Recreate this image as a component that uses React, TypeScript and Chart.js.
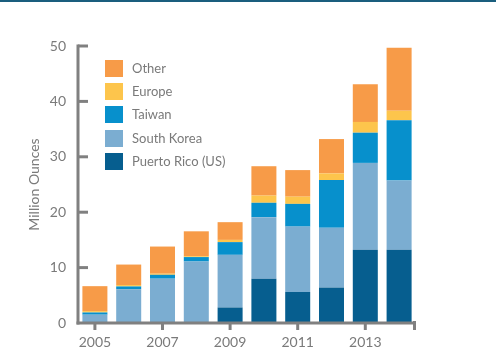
import React, { useEffect, useRef } from "react";
import { Chart, registerables } from "chart.js";

Chart.register(...registerables);

const years = ["2005", "2006", "2007", "2008", "2009", "2010", "2011", "2012", "2013", "2014"];
const puertoRico = [0, 0, 0, 0, 2.8, 8.0, 5.6, 6.4, 13.2, 13.2];
const southKorea = [1.5, 6.1, 8.0, 11.1, 9.5, 11.1, 11.8, 10.8, 15.7, 12.5];
const taiwan = [0.4, 0.5, 0.7, 0.8, 2.3, 2.6, 4.1, 8.6, 5.45, 10.9];
const europe = [0.25, 0.25, 0.2, 0.15, 0.4, 1.3, 1.3, 1.2, 1.95, 1.7];
const other = [4.5, 3.7, 4.9, 4.5, 3.2, 5.3, 4.8, 6.2, 6.8, 11.4];
const yTicks = [0, 10, 20, 30, 40, 50];

const COLORS = {
  pr: "#065e8f",
  sk: "#7badd1",
  tw: "#0790cc",
  eu: "#fdc54c",
  ot: "#f79b48",
};

const legendItems = [
  { label: "Other", color: COLORS.ot },
  { label: "Europe", color: COLORS.eu },
  { label: "Taiwan", color: COLORS.tw },
  { label: "South Korea", color: COLORS.sk },
  { label: "Puerto Rico (US)", color: COLORS.pr },
];

const AXIS = "#808080";
const TEXT = "#7a7a7a";
const FONT = "Lato, 'Open Sans', sans-serif";

const axisPlugin = {
  id: "customAxes",
  afterDraw(chart: any) {
    const { ctx } = chart;
    const x = chart.scales.x;
    const y = chart.scales.y;
    const left = chart.chartArea.left;
    const right = chart.chartArea.right;
    const bottom = y.getPixelForValue(0);
    const top = y.getPixelForValue(50);
    ctx.save();
    ctx.strokeStyle = AXIS;
    ctx.lineWidth = 3;
    ctx.lineCap = "butt";
    ctx.beginPath();
    ctx.moveTo(left, top - 1.5);
    ctx.lineTo(left, bottom + 1.5);
    ctx.stroke();
    ctx.beginPath();
    ctx.moveTo(left - 1.5, bottom);
    ctx.lineTo(right, bottom);
    ctx.stroke();
    yTicks.forEach((v) => {
      if (v === 0) return;
      const py = y.getPixelForValue(v);
      ctx.beginPath();
      ctx.moveTo(left, py);
      ctx.lineTo(left + 10, py);
      ctx.stroke();
    });
    years.forEach((_yr, i) => {
      if (i % 2 !== 0) return;
      const px = x.getPixelForValue(i);
      ctx.beginPath();
      ctx.moveTo(px, bottom);
      ctx.lineTo(px, bottom + 7);
      ctx.stroke();
    });
    ctx.beginPath();
    ctx.moveTo(right - 1.5, bottom - 2);
    ctx.lineTo(right - 1.5, bottom + 7);
    ctx.stroke();
    ctx.restore();
  },
};

export default function App() {
  const ref = useRef<HTMLCanvasElement>(null);
  useEffect(() => {
    if (!ref.current) return;
    const mk = (label: string, data: number[], color: string) => ({
      label,
      data,
      backgroundColor: color,
      borderWidth: 0,
      barPercentage: 0.74,
      categoryPercentage: 1,
    });
    const chart = new Chart(ref.current, {
      type: "bar",
      data: {
        labels: years,
        datasets: [
          mk("Puerto Rico (US)", puertoRico, COLORS.pr),
          mk("South Korea", southKorea, COLORS.sk),
          mk("Taiwan", taiwan, COLORS.tw),
          mk("Europe", europe, COLORS.eu),
          mk("Other", other, COLORS.ot),
        ],
      },
      options: {
        animation: false,
        responsive: false,
        maintainAspectRatio: false,
        layout: { padding: { left: 0, top: 46, right: 80, bottom: 0 } },
        plugins: { legend: { display: false }, tooltip: { enabled: false } },
        scales: {
          x: {
            stacked: true,
            grid: { display: false },
            border: { display: false },
            ticks: {
              autoSkip: false,
              maxRotation: 0,
              padding: 3,
              color: TEXT,
              font: { family: FONT, size: 14 },
              callback: (_v: any, i: number) => (i % 2 === 0 ? years[i] : ""),
            },
            afterFit: (s: any) => {
              s.height = 29;
            },
          },
          y: {
            stacked: true,
            min: 0,
            max: 50,
            grid: { display: false },
            border: { display: false },
            afterBuildTicks: (s: any) => {
              s.ticks = yTicks.map((v) => ({ value: v }));
            },
            ticks: {
              padding: 4,
              color: TEXT,
              font: { family: FONT, size: 14 },
            },
            title: {
              display: true,
              text: "Million Ounces",
              color: TEXT,
              font: { family: FONT, size: 14 },
              padding: { top: 26, bottom: 0 },
            },
            afterFit: (s: any) => {
              s.width = 78;
            },
          },
        },
      },
      plugins: [axisPlugin],
    } as any);
    return () => chart.destroy();
  }, []);

  return (
    <div style={{ position: "fixed", left: 0, top: 0, width: 496, height: 352, background: "#fff", overflow: "hidden" }}>
      <div style={{ position: "absolute", left: 0, top: 0, width: 496, height: 2, background: "#1a5e7e" }} />
      <canvas ref={ref} width={496} height={352} style={{ position: "absolute", left: 0, top: 0 }} />
      <div style={{ position: "absolute", left: 105, top: 60 }}>
        {legendItems.map((it, i) => (
          <div key={it.label} style={{ position: "absolute", left: 0, top: i * 23.2, display: "flex", alignItems: "center", whiteSpace: "nowrap" }}>
            <div style={{ width: 18, height: 17, background: it.color }} />
            <span style={{ marginLeft: 9, fontFamily: FONT, fontSize: 13, color: TEXT, lineHeight: "17px" }}>{it.label}</span>
          </div>
        ))}
      </div>
    </div>
  );
}
